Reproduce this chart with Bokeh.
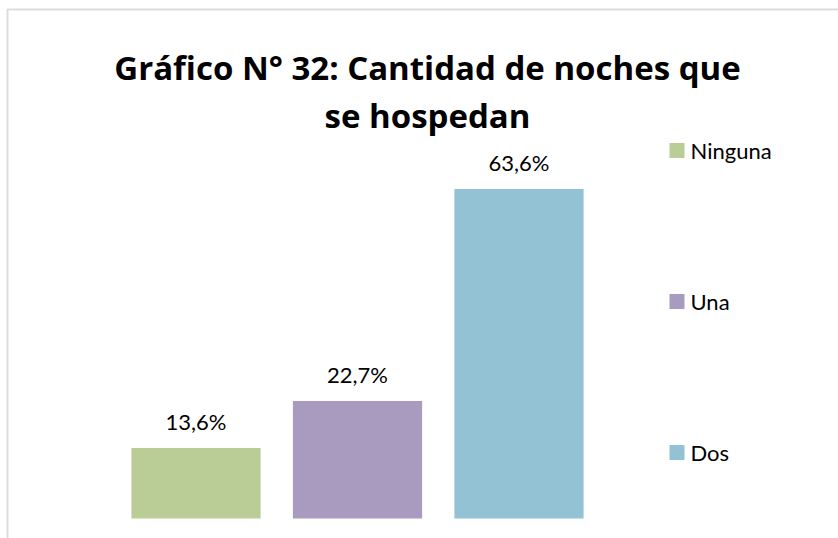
from bokeh.plotting import figure
from bokeh.models import ColumnDataSource, Range1d, Label, LabelSet, BoxAnnotation
from bokeh.embed import file_html
from bokeh.resources import INLINE
from bokeh.core.properties import value

categories = ["Ninguna", "Una", "Dos"]
values = [13.6, 22.7, 63.6]
value_labels = ["13,6%", "22,7%", "63,6%"]
colors = ["#BACD96", "#A99BBF", "#92C2D4"]
title_lines = ["Gráfico N° 32: Cantidad de noches que", "se hospedan"]

W, H = 838, 538
px_x = 161.5
px_y = 5.18
x0 = -195.5 / px_x
y0 = -20 / px_y

src = ColumnDataSource(dict(x=list(range(len(categories))), top=values,
                            lab=value_labels, color=colors, cat=categories))

p = figure(width=W, height=H, output_backend="svg", toolbar_location=None,
           x_range=Range1d(x0, x0 + W / px_x), y_range=Range1d(y0, y0 + H / px_y),
           min_border=0, min_border_left=0, min_border_right=0,
           min_border_top=0, min_border_bottom=0)
p.axis.visible = False
p.grid.visible = False
p.outline_line_color = None
p.background_fill_color = "white"
p.border_fill_color = "white"

p.vbar(x="x", top="top", bottom=0, width=0.8, color="color", line_color=None, source=src)

p.add_layout(LabelSet(x="x", y="top", text="lab", source=src, y_offset=18,
                      text_align="center", text_baseline="alphabetic",
                      text_font=value("Lato"), text_font_size="22px", text_color="#000000"))

# title
for t, yb in zip(title_lines, [471, 423]):
    p.add_layout(Label(x=427, y=yb, x_units="screen", y_units="screen", text=t,
                       text_align="center", text_baseline="alphabetic",
                       text_font="Open Sans", text_font_style="bold",
                       text_font_size="33px", text_color="#000000"))

# legend
leg_y = [388, 237, 86]
for cat, col, ly in zip(categories, colors, leg_y):
    p.add_layout(BoxAnnotation(left=669, right=684, bottom=ly - 7.5, top=ly + 7.5,
                               left_units="screen", right_units="screen",
                               bottom_units="screen", top_units="screen",
                               fill_color=col, fill_alpha=1, line_color=None))
    p.add_layout(Label(x=690, y=ly, x_units="screen", y_units="screen", text=cat,
                       text_align="left", text_baseline="middle",
                       text_font="Lato", text_font_size="22px", text_color="#000000"))

# frame border (left and top)
p.add_layout(BoxAnnotation(left=7, right=900, bottom=-50, top=529,
                           left_units="screen", right_units="screen",
                           bottom_units="screen", top_units="screen",
                           fill_alpha=0, line_color="#8A8A8A", line_width=2))

open("out.html", "w").write(file_html(p, INLINE))
